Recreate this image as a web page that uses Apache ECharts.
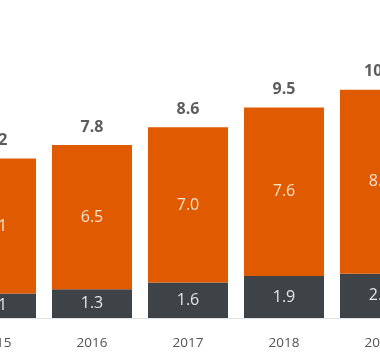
<!DOCTYPE html>
<html><head><meta charset="utf-8">
<script src="https://cdn.jsdelivr.net/npm/echarts@6/dist/echarts.min.js"></script>
<style>
html,body{margin:0;padding:0;width:380px;height:360px;overflow:hidden;background:#fff;}
#c{position:absolute;left:-52px;top:0;width:480px;height:360px;}
</style></head>
<body><div id="c"></div>
<script>
var categories = ['2015','2016','2017','2018','2019'];
var baseValues = [1.1, 1.3, 1.6, 1.9, 2.0];
var upperValues = [6.1, 6.5, 7.0, 7.6, 8.3];
var totals = [7.2, 7.8, 8.6, 9.5, 10.3];

var chart = echarts.init(document.getElementById('c'), null, {renderer:'canvas'});
var font = '"Open Sans", "Noto Sans", sans-serif';
chart.setOption({
  animation:false,
  grid:{left:0,right:0,top:52,bottom:42,containLabel:false},
  xAxis:{type:'category',data:categories,
    axisLine:{show:true,lineStyle:{color:'#e3e3e3',width:1}},
    axisTick:{show:false},
    axisLabel:{color:'#525252',fontSize:13.5,fontFamily:font,margin:18}},
  yAxis:{type:'value',min:0,max:12,show:false,splitLine:{show:false}},
  series:[
    {type:'bar',stack:'a',data:baseValues,barWidth:80,
     itemStyle:{color:'#3e4347'},
     label:{show:true,position:'inside',color:'#e6e6e6',fontSize:16,fontFamily:font,
       formatter:function(p){return p.value.toFixed(1);}}},
    {type:'bar',stack:'a',data:upperValues,barWidth:80,
     itemStyle:{color:'#e05a00'},
     label:{show:true,position:'inside',color:'#fbe3d2',fontSize:16,fontFamily:font,
       formatter:function(p){return p.value.toFixed(1);}}},
    {type:'scatter',data:totals,symbol:'circle',symbolSize:2,itemStyle:{color:'rgba(0,0,0,0)'},silent:true,z:10,
     label:{show:true,position:'top',distance:9,color:'#333333',fontSize:16,fontWeight:'bold',fontFamily:font,
       formatter:function(p){return p.value.toFixed(1);}}}
  ]
});
</script></body></html>
